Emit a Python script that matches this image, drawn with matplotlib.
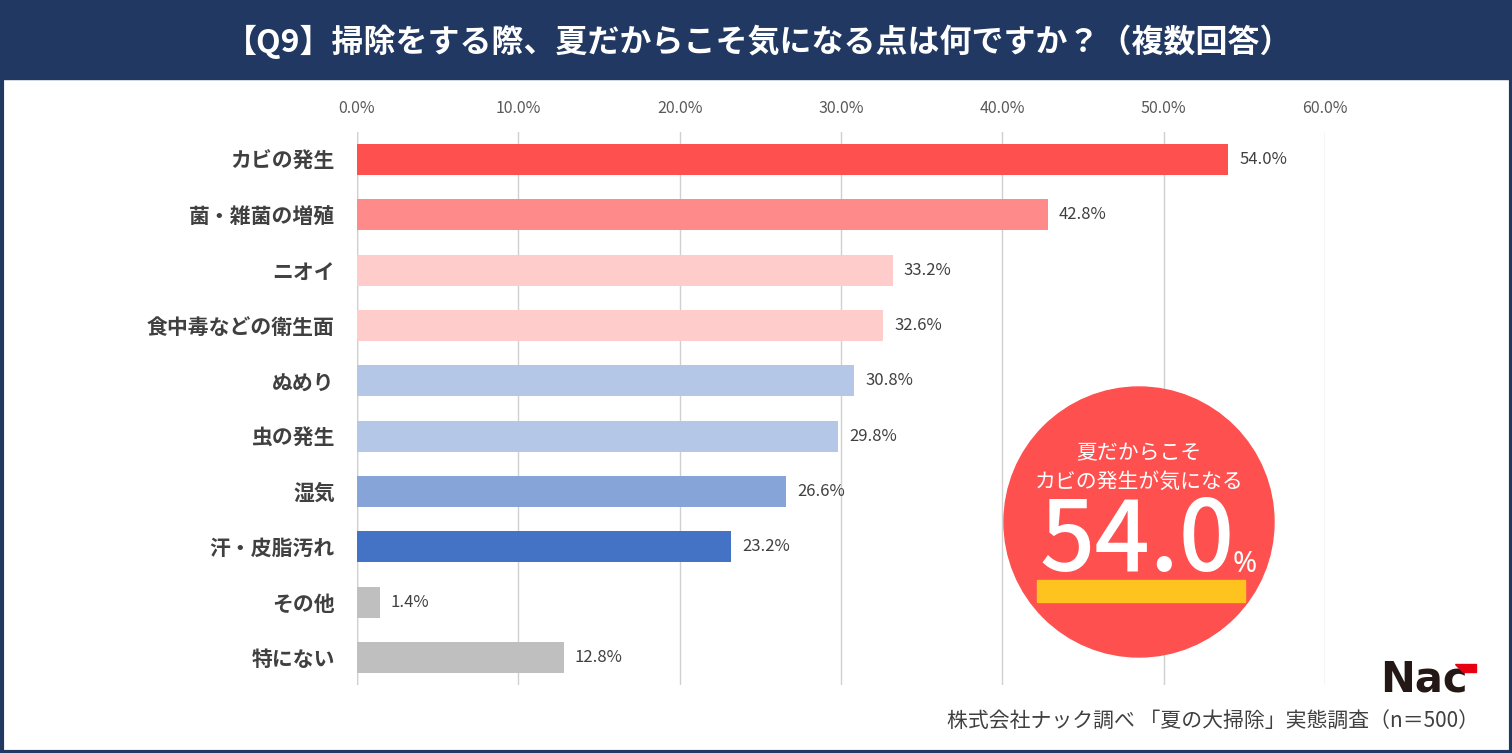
import matplotlib
matplotlib.use("Agg")
import matplotlib.pyplot as plt
from matplotlib.patches import Rectangle, Circle, Polygon

plt.rcParams['font.family'] = ['Noto Sans CJK JP', 'DejaVu Sans']

categories = ["カビの発生", "菌・雑菌の増殖", "ニオイ", "食中毒などの衛生面", "ぬめり",
              "虫の発生", "湿気", "汗・皮脂汚れ", "その他", "特にない"]
values = [54.0, 42.8, 33.2, 32.6, 30.8, 29.8, 26.6, 23.2, 1.4, 12.8]
colors = ["#FF5050", "#FF8A8A", "#FFCCCC", "#FFCCCC", "#B4C7E7",
          "#B4C7E7", "#86A4D8", "#4472C4", "#BFBFBF", "#BFBFBF"]
xticks = [0, 10, 20, 30, 40, 50, 60]
title = "【Q9】掃除をする際、夏だからこそ気になる点は何ですか？（複数回答）"
source = "株式会社ナック調べ 「夏の大掃除」実態調査（n＝500）"
callout_lines = ["夏だからこそ", "カビの発生が気になる"]
callout_value = "54.0"

W, H = 1512, 753
fig = plt.figure(figsize=(W / 100, H / 100), dpi=100)
fig.patch.set_facecolor("white")

# background axes in pixel coords
bg = fig.add_axes([0, 0, 1, 1])
bg.set_xlim(0, W)
bg.set_ylim(H, 0)
bg.axis("off")
bg.add_patch(Rectangle((0, 0), W, 79, color="#213862", zorder=1))
bg.text(W / 2 + 3, 42, title, color="white", fontsize=23, fontweight="bold",
        ha="center", va="center", zorder=2)
bg.text(1479, 721, source, color="#404040", fontsize=15, ha="right", va="center")

# main bar axes: 0% at x=357, 60% at x=1325
x0, x1 = 357, 1325
ytop, ybot = 132, 685
ax = fig.add_axes([x0 / W, 1 - ybot / H, (x1 - x0) / W, (ybot - ytop) / H])
ax.set_facecolor("none")
n = len(categories)
ypos = list(range(n))
ax.barh(ypos, values, color=colors, height=0.56, zorder=3)
ax.set_xlim(0, 60)
ax.set_ylim(n - 0.5, -0.5)
ax.set_xticks(xticks)
ax.set_xticklabels([f"{t:.1f}%" for t in xticks], color="#595959", fontsize=11.5)
ax.xaxis.tick_top()
ax.tick_params(axis="x", length=0, pad=11)
ax.set_yticks(ypos)
ax.set_yticklabels(categories, fontsize=15, fontweight="bold", color="#404040")
ax.tick_params(axis="y", length=0, pad=16)
ax.grid(axis="x", color="#D0D0D0", lw=1, zorder=0)
for s in ax.spines.values():
    s.set_visible(False)
ax.axvline(0, color="#C8C8C8", lw=1, zorder=1)
for y, v in zip(ypos, values):
    ax.text(v + 0.7, y, f"{v:.1f}%", va="center", ha="left", fontsize=12, color="#404040", zorder=4)

# overlay axes for callout, logo, border
ov = fig.add_axes([0, 0, 1, 1])
ov.set_xlim(0, W)
ov.set_ylim(H, 0)
ov.axis("off")
ov.set_facecolor("none")
ov.add_patch(Rectangle((1.5, 1.5), W - 3, H - 3, fill=False, ec="#213862", lw=3, zorder=5))

cx, cy, r = 1139, 522, 135
ov.add_patch(Circle((cx, cy), r, color="#FF5050", zorder=6))
ov.text(cx, 453, callout_lines[0], color="white", fontsize=15, ha="center", va="center", zorder=7)
ov.text(cx, 482, callout_lines[1], color="white", fontsize=15, ha="center", va="center", zorder=7)
ov.add_patch(Rectangle((1037, 580), 208, 22, color="#FFC31F", zorder=7))
ov.text(1137, 543, callout_value, color="white", fontsize=70, fontweight="medium",
        ha="center", va="center", family=["Noto Sans CJK JP", "DejaVu Sans"], zorder=8)
ov.text(1245, 564, "%", color="white", fontsize=21, ha="center", va="center",
        family=["Noto Sans", "DejaVu Sans"], zorder=8)

# Nac logo
ov.text(1424, 680, "Nac", color="#231815", fontsize=30, fontweight="black", ha="center",
        va="center", family=["DejaVu Sans"], zorder=8)
ov.add_patch(Polygon([[1455, 664], [1476, 664], [1476, 672], [1463, 672]], color="#E60012", zorder=9))

fig.savefig("out.png", dpi=100, facecolor="white")
